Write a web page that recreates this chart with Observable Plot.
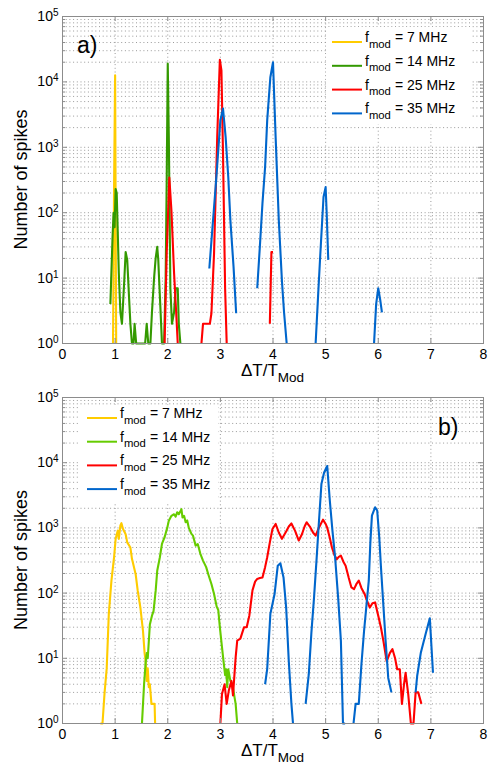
<!DOCTYPE html>
<html><head><meta charset="utf-8">
<script src="https://cdn.jsdelivr.net/npm/d3@7"></script>
<script src="https://cdn.jsdelivr.net/npm/@observablehq/plot@0.6"></script>
<style>
body{margin:0;background:#fff;}
.panel{width:491px;}
.panel svg{display:block;}
</style></head><body>
<div id="pa" class="panel"></div>
<div id="pb" class="panel"></div>
<script>
// ---------- data ----------
const xTicks = [0,1,2,3,4,5,6,7,8];
const yDecades = [1,10,100,1000,10000,100000];
const yMinor = yDecades.slice(0,5).flatMap(d => [2,3,4,5,6,7,8,9].map(m => m*d));
const legendLabels = ["= 7 MHz","= 14 MHz","= 25 MHz","= 35 MHz"];
const xLabelMain = "ΔT/T", xLabelSub = "Mod";
const yLabel = "Number of spikes";

// panel a)
const aX7 = [0.96,0.98,1.00,1.02];
const aY7 = [1,250,12600,1];
const aX14 = [0.91,0.95,0.97,0.99,1.01,1.03,1.05,1.07,1.10,1.13,1.17,1.20,1.23,1.26,1.29,1.32,1.35,1.37,1.40,1.43,1.47,1.51,1.55,1.57,1.60,1.63,1.67,1.70,1.74,1.77,1.80,1.82,1.84,1.86,1.89,1.93,1.96,1.98,2.00,2.02,2.05,2.08,2.12,2.15,2.19,2.21,2.24];
const aY14 = [4,40,100,60,230,200,50,12,3,2,8,25,19,6,2,1,1,2,1,1,1,1,1,1,2,1,1,3,10,20,30,19,8,3.6,1,1,10,300,19000,1500,7,2,3,7,7,2,1];
const aX25 = [1.94,1.98,2.03,2.07,2.12,2.16,2.19,2.4,2.64,2.67,2.80,2.83,2.88,2.94,2.99,3.02,3.05,3.09,3.12,3.5,3.94,3.97,4.00];
const aY25 = [1,24,345,108,12,3,1,null,1,2,2,2.9,24,1430,21800,15000,800,7,1,null,2,25,25];
const aX35 = [2.79,2.85,2.91,2.96,3.00,3.05,3.10,3.15,3.19,3.25,3.30,3.5,3.70,3.75,3.80,3.85,3.89,3.95,4.00,4.05,4.11,4.17,4.21,4.26,4.5,4.81,4.86,4.90,4.96,5.00,5.02,5.05,5.5,5.92,5.96,6.00,6.04,6.07];
const aY35 = [14,60,248,900,2600,3900,1430,350,77,15,2.9,null,7,30,140,500,2600,11800,20000,1430,77,9,3,1,null,1,6,24,174,246,100,19,null,1,4,7,4.5,3];

// panel b)
const bX7 = [0.72,0.76,0.80,0.84,0.88,0.93,0.98,1.01,1.05,1.07,1.10,1.12,1.15,1.20,1.23,1.29,1.32,1.39,1.43,1.48,1.53,1.56,1.58,1.60,1.62,1.64,1.66,1.69,1.75,1.76];
const bY7 = [1,1,3,7,48,155,355,680,910,680,1090,1180,960,800,600,500,335,195,108,60,26,12,9,4.5,7,3.6,4,2,2,1];
const bX14 = [1.51,1.55,1.58,1.60,1.62,1.66,1.70,1.73,1.77,1.80,1.85,1.89,1.94,1.99,2.02,2.07,2.12,2.15,2.18,2.21,2.24,2.26,2.28,2.31,2.34,2.37,2.40,2.45,2.48,2.53,2.57,2.62,2.67,2.73,2.77,2.83,2.88,2.93,2.96,2.99,3.03,3.06,3.09,3.11,3.13,3.15,3.19,3.23,3.27,3.29,3.32];
const bY14 = [1,4,8.6,12,10,33,45,53,108,220,355,570,720,1000,1290,1530,1620,1490,1740,1620,1800,1940,1450,1530,1220,1300,1000,810,760,535,565,400,315,250,195,138,97,62,55,30,15,9,5.5,6.8,3.6,6.8,4.5,4,2.5,2,1];
const bX25 = [3.00,3.03,3.08,3.12,3.16,3.21,3.24,3.29,3.32,3.38,3.45,3.50,3.55,3.61,3.66,3.70,3.75,3.80,3.85,3.89,3.94,3.99,4.05,4.11,4.17,4.22,4.26,4.30,4.35,4.42,4.49,4.55,4.60,4.64,4.70,4.76,4.81,4.87,4.95,5.00,5.03,5.08,5.12,5.17,5.21,5.25,5.29,5.34,5.38,5.44,5.49,5.54,5.59,5.63,5.68,5.74,5.79,5.84,5.89,5.94,6.00,6.05,6.10,6.16,6.22,6.27,6.32,6.36,6.41,6.45,6.49,6.52,6.57,6.62,6.67,6.71,6.76,6.82];
const bY25 = [1,2.8,4,2,3.2,4.5,2.7,10.3,18.6,20,30,30,45,110,150,165,170,174,250,355,600,960,1150,850,680,800,910,1050,1170,900,640,800,1050,1220,1050,850,760,1000,1340,1150,1010,700,500,380,330,360,375,300,263,170,122,115,140,155,120,97,75,60,70,72,45,30,18,9,12,13.8,10,6.8,6.8,2,4,6,2.8,1,1,3,3,2];
const bX35 = [3.85,3.89,3.95,4.03,4.09,4.14,4.20,4.25,4.30,4.35,4.38,4.5,4.62,4.68,4.73,4.78,4.83,4.87,4.92,4.97,5.03,5.08,5.13,5.18,5.24,5.29,5.33,5.37,5.45,5.53,5.57,5.63,5.68,5.73,5.78,5.82,5.85,5.88,5.94,5.98,6.02,6.05,6.10,6.14,6.19,6.25,6.5,6.71,6.74,6.81,6.90,6.98,7.04];
const bY35 = [4,6.9,48,97,262,286,174,60,9,2,1,null,2,5.7,25,86,350,1150,4700,7000,8900,2600,900,355,80,18.6,1,1,null,1,2,2,8,26,70,155,600,1540,2070,1850,700,262,60,18.6,5,3,null,3,5.4,12.3,23.5,41,6];

const colorsA = ["#FFCC00","#339900","#FF0000","#0066CC"];
const colorsB = ["#FFCC00","#66CC00","#FF0000","#0066CC"];

// ---------- drawing ----------
const FONT = '"Liberation Sans", Arial, Helvetica, sans-serif';
const W = 491, ML = 62, MR = 8;
const FRAME = "#8c8c8c";

function toRows(xs, ys){ return xs.map((x,i) => ({x, y: ys[i]})); }

function panel(cfg){
  const {height, mt, mb, series, colors} = cfg;
  const innerH = height - mt - mb, innerW = W - ML - MR;
  const grid = {stroke:"#9a9a9a", strokeWidth:1, strokeDasharray:"1,2.7"};
  const marks = [
    Plot.ruleX(xTicks, {x:d=>d, ...grid}),
    Plot.ruleY(yMinor, {y:d=>d, ...grid}),
    Plot.ruleY(yDecades, {y:d=>d, ...grid}),
    ...series.map((s,i) => Plot.line(toRows(s[0], s[1]), {x:"x", y:"y", stroke:colors[i], strokeWidth:2.1, strokeLinejoin:"round", strokeLinecap:"butt"})),
    Plot.frame({stroke:FRAME, strokeWidth:1}),
    Plot.tickX(xTicks, {x:d=>d, stroke:FRAME, insetTop: innerH - 5}),
    Plot.tickX(xTicks, {x:d=>d, stroke:FRAME, insetBottom: innerH - 5}),
    Plot.tickY(yDecades, {y:d=>d, stroke:FRAME, insetRight: innerW - 5}),
    Plot.tickY(yDecades, {y:d=>d, stroke:FRAME, insetLeft: innerW - 5}),
    Plot.tickY(yMinor, {y:d=>d, stroke:FRAME, insetRight: innerW - 3}),
    Plot.tickY(yMinor, {y:d=>d, stroke:FRAME, insetLeft: innerW - 3}),
    Plot.axisX({ticks: xTicks, anchor:"bottom", tickSize:0, tickPadding:6, label:null, fontSize:14, tickFormat: d => String(d)}),
    Plot.axisY({ticks: yDecades, anchor:"left", tickSize:0, tickPadding:4, label:null, fontSize:14, tickFormat: d => "10^" + Math.round(Math.log10(d))})
  ];
  const svg = Plot.plot({
    width: W, height, marginLeft: ML, marginRight: MR, marginTop: mt, marginBottom: mb,
    x: {domain:[0,8]},
    y: {type:"log", domain:[1,1e5]},
    style: {fontFamily: FONT, fontSize:"14px", color:"#000", background:"#fff"},
    marks
  });
  const s = d3.select(svg);
  // superscript exponents on y tick labels
  s.selectAll('g[aria-label="y-axis tick label"] text').each(function(){
    const t = this.textContent;
    if (!t.includes("^")) return;
    const [b, e] = t.split("^");
    const el = d3.select(this);
    el.text(b);
    el.append("tspan").attr("dy","-0.5em").attr("font-size","10px").text(e);
  });
  // y label
  s.append("text")
    .attr("transform", `translate(26.5,${mt + innerH/2}) rotate(-90)`)
    .attr("text-anchor","middle").attr("font-family",FONT).attr("font-size",18).attr("fill","#000")
    .text(yLabel);
  // x label
  const xl = s.append("text")
    .attr("x", ML + innerW/2).attr("y", cfg.xLabelY)
    .attr("text-anchor","middle").attr("font-family",FONT).attr("font-size",17).attr("fill","#000");
  xl.append("tspan").text(xLabelMain);
  xl.append("tspan").attr("dy",6).attr("font-size",13.5).text(xLabelSub);
  // legend
  const L = cfg.legend;
  s.append("rect").attr("x",L.box[0]).attr("y",L.box[1]).attr("width",L.box[2]).attr("height",L.box[3]).attr("fill","#fff");
  legendLabels.forEach((lab,i) => {
    const y = L.y0 + i*L.dy;
    s.append("line").attr("x1",L.x0).attr("x2",L.x1).attr("y1",y).attr("y2",y)
      .attr("stroke",colors[i]).attr("stroke-width",2);
    const t = s.append("text").attr("x",L.tx).attr("y",y).attr("text-anchor","start")
      .attr("font-family",FONT).attr("font-size",14).attr("fill","#000");
    t.append("tspan").text("f");
    t.append("tspan").attr("dy",5.5).attr("font-size",11.3).text("mod");
    t.append("tspan").attr("dy",-5.5).attr("dx",4).text(lab);
  });
  // panel letter
  s.append("text").attr("x",cfg.letter.x).attr("y",cfg.letter.y).attr("text-anchor","start")
    .attr("font-family",FONT).attr("font-size",23).attr("fill","#000").text(cfg.letter.text);
  return svg;
}

document.getElementById("pa").appendChild(panel({
  height: 384, mt: 16, mb: 41,
  series: [[aX7,aY7],[aX14,aY14],[aX25,aY25],[aX35,aY35]],
  colors: colorsA,
  xLabelY: 376,
  legend: {x0:332, x1:362, tx:365, y0:42, dy:23.8, box:[326,27,144,97]},
  letter: {x:77, y:53, text:"a)"}
}));
document.getElementById("pb").appendChild(panel({
  height: 383, mt: 13, mb: 44,
  series: [[bX7,bY7],[bX14,bY14],[bX25,bY25],[bX35,bY35]],
  colors: colorsB,
  xLabelY: 372,
  legend: {x0:87, x1:117, tx:120, y0:34, dy:23.7, box:[80,21,138,97]},
  letter: {x:438, y:51, text:"b)"}
}));
</script>
</body></html>
